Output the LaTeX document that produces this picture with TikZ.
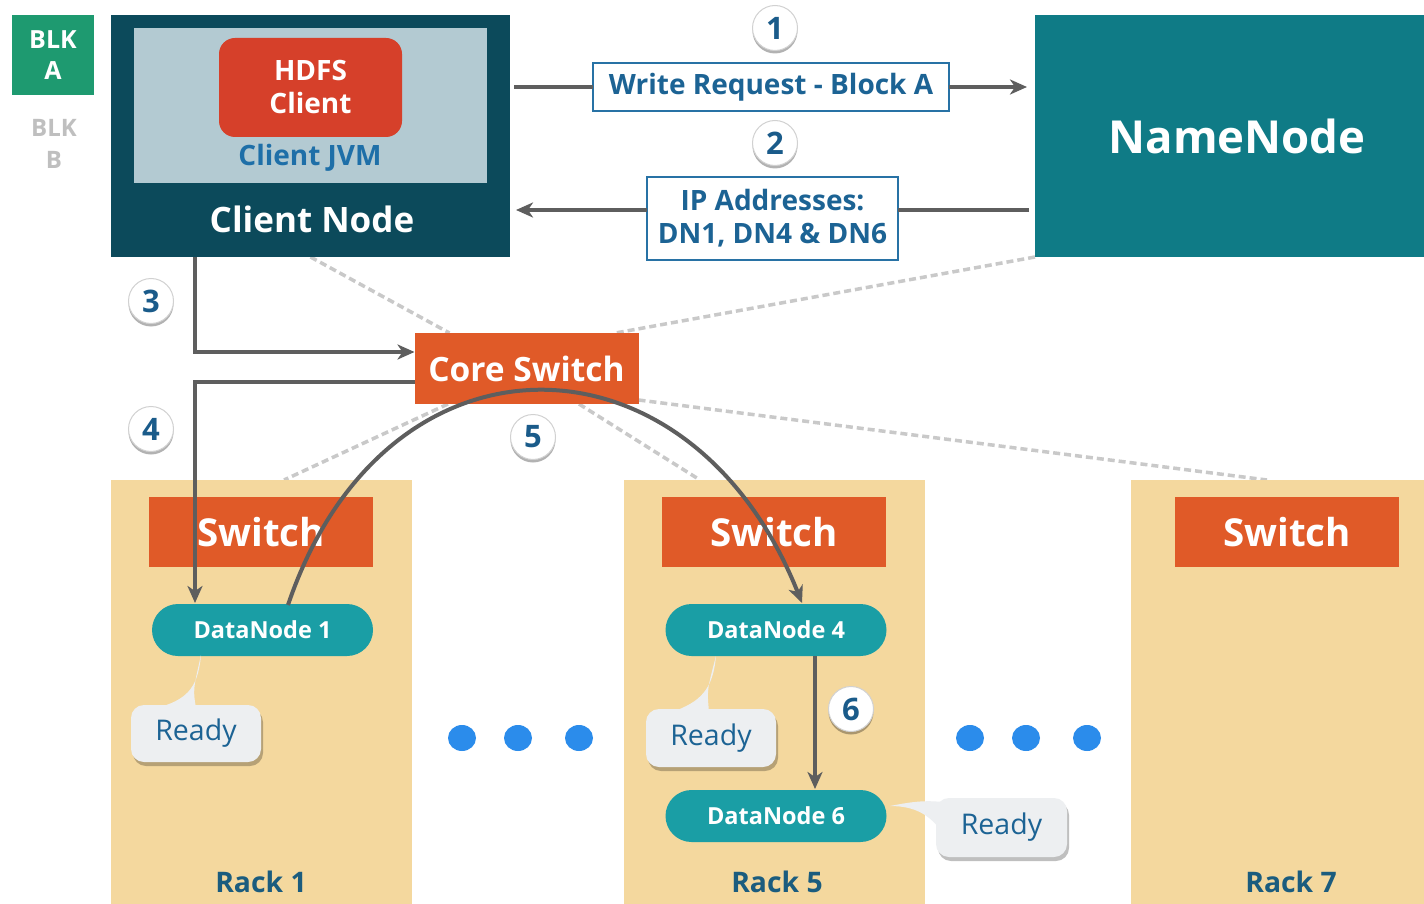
\documentclass[tikz,border=0pt]{standalone}
\usepackage{fontspec}
\setmainfont{Open Sans}
\usetikzlibrary{arrows.meta,shadows,calc,shapes.geometric}
\definecolor{blkgreen}{HTML}{1E9A70}
\definecolor{darkteal}{HTML}{0C4A5B}
\definecolor{jvmbg}{HTML}{B3CAD2}
\definecolor{hdfsred}{HTML}{D6402A}
\definecolor{jvmblue}{HTML}{1E6FA8}
\definecolor{nnteal}{HTML}{0F7B86}
\definecolor{swor}{HTML}{E05A28}
\definecolor{racktan}{HTML}{F4D89E}
\definecolor{dnteal}{HTML}{1A9EA5}
\definecolor{bubble}{HTML}{EDEFF1}
\definecolor{racktxt}{HTML}{1B5C7E}
\definecolor{lblblue}{HTML}{1C6394}
\definecolor{lblborder}{HTML}{2872A5}
\definecolor{numtxt}{HTML}{1A5B8A}
\definecolor{dotblue}{HTML}{2B8CEB}
\definecolor{arrgray}{HTML}{5E5E5E}
\definecolor{dashgray}{HTML}{C9C9C9}
\newcommand{\fs}[2]{\fontsize{#1}{#2}\selectfont}
\pgfdeclarelayer{bg}
\pgfsetlayers{bg,main}
\begin{document}
\begin{tikzpicture}[x=1pt,y=-1pt,
  box/.style={rectangle,inner sep=0pt,outer sep=0pt},
  conn/.style={draw=arrgray,line width=4pt},
  tip/.style={-{Stealth[length=17pt,width=15pt,inset=5pt]}},
  dsh/.style={draw=dashgray,line width=3.5pt,dash pattern=on 7pt off 4pt},
  num/.style={circle,fill=white,draw=black!18,line width=1pt,minimum size=45pt,inner sep=0pt,
     text=numtxt,font=\fs{31}{36}\bfseries,
     drop shadow={shadow xshift=0pt,shadow yshift=-3pt,fill=black,opacity=.3}},
  lbl/.style={box,fill=white,draw=lblborder,line width=2.5pt,text=lblblue,font=\fs{28}{33}\bfseries,align=center},
  rack/.style={box,fill=racktan,minimum width=301pt,minimum height=440pt},
  switchbox/.style={box,fill=swor,minimum width=224pt,minimum height=70pt,text=white,font=\fs{38.5}{44}\bfseries},
  dnode/.style={box,fill=dnteal,rounded corners=26pt,minimum width=221pt,minimum height=52pt,text=white,font=\fs{23.5}{28}\bfseries},
  ready/.style={box,fill=bubble,rounded corners=13pt,minimum width=130pt,minimum height=57pt,text=lblblue,font=\fs{28.5}{33},
     drop shadow={shadow xshift=2pt,shadow yshift=-4pt,fill=black,opacity=.25}},
  racklbl/.style={text=racktxt,font=\fs{28.3}{33}\bfseries,inner sep=0pt},
  dotn/.style={ellipse,fill=dotblue,minimum width=28pt,minimum height=26pt,inner sep=0pt},
]
\useasboundingbox (0,0) rectangle (1424,904);
\begin{pgfonlayer}{bg}
\fill[white] (0,0) rectangle (1424,904);
\end{pgfonlayer}

% BLK labels
\node[box,fill=blkgreen,minimum width=82pt,minimum height=80pt,text=white,font=\fs{25}{31}\bfseries,align=center] (blka) at (53,55) {BLK\\A};
\node[text=black!25,font=\fs{24}{32}\bfseries,align=center,inner sep=0pt] (blkb) at (54,144) {BLK\\B};

% racks and switches
\node[rack] (rack1) at (261.5,700) {};
\node[rack] (rack5) at (774.5,700) {};
\node[rack] (rack7) at (1281.5,700) {};
\node[switchbox] (sw1) at (261,532) {Switch};
\node[switchbox] (sw5) at (774,532) {Switch};
\node[switchbox] (sw7) at (1287,532) {Switch};
\node[racklbl] (rl1) at (261,882) {Rack 1};
\node[racklbl] (rl5) at (777,882) {Rack 5};
\node[racklbl] (rl7) at (1291,882) {Rack 7};

% client node
\node[box,fill=darkteal,minimum width=399pt,minimum height=242pt] (client) at (310.5,136) {};
\node[box,fill=jvmbg,minimum width=353pt,minimum height=155pt] (jvm) at (310.5,105.5) {};
\node[box,fill=hdfsred,rounded corners=16pt,minimum width=183pt,minimum height=99pt,text=white,font=\fs{28}{33}\bfseries,align=center] (hdfs) at (310.5,87.5) {HDFS\\Client};
\node[text=jvmblue,font=\fs{28}{33}\bfseries,inner sep=0pt] (jvmtxt) at (310,158) {Client JVM};
\node[text=white,font=\fs{35}{40}\bfseries,inner sep=0pt] (cntxt) at (312,219) {Client Node};

% name node
\node[box,fill=nnteal,minimum width=404pt,minimum height=242pt,text=white,font=\fs{45.5}{52}\bfseries] (nn) at (1237,136) {NameNode};

% core switch
\node[box,fill=swor,minimum width=224pt,minimum height=71pt,text=white,font=\fs{33.5}{38}\bfseries] (core) at (526.5,368.5) {Core Switch};

% dashed links
\begin{pgfonlayer}{bg}
\draw[dsh] (client.south) -- ([xshift=35pt]core.north west);
\draw[dsh] (nn.south west) -- ([xshift=-23pt]core.north east);
\draw[dsh] ([xshift=-78.5pt]core.south) -- ([xshift=22.5pt]rack1.north);
\draw[dsh] ([xshift=52.5pt]core.south) -- ([xshift=-74.5pt]rack5.north);
\draw[dsh] ([yshift=4pt]core.south east) -- ([xshift=-14.5pt]rack7.north);
\end{pgfonlayer}

% labels between client and namenode
\node[lbl,minimum width=356pt,minimum height=48pt] (wr) at (771,87) {Write Request - Block A};
\node[lbl,minimum width=251pt,minimum height=83pt] (ip) at (772.5,218.5) {IP Addresses:\\DN1, DN4 \& DN6};
\coordinate (ipe) at ([yshift=8.5pt]ip.east);
\coordinate (ipw) at ([yshift=8.5pt]ip.west);

\draw[conn] ([xshift=4pt]client.east |- wr.west) -- (wr.west);
\draw[conn,tip] (wr.east) -- ([xshift=-8pt]nn.west |- wr.east);
\draw[conn] ([xshift=-6pt]nn.west |- ipe) -- (ipe);
\draw[conn,tip] (ipw) -- ([xshift=6pt]client.east |- ipw);

% data nodes
\node[dnode] (dn1) at (262.5,630) {DataNode 1};
\node[dnode] (dn4) at (776,630) {DataNode 4};
\node[dnode] (dn6) at (776,816) {DataNode 6};

% arrows 3,4,5,6
\draw[conn,tip] ([xshift=-115.5pt]client.south) |- ([yshift=16.5pt]core.west);
\draw[conn,tip] ([yshift=-13.5pt]core.west) -| ([xshift=-67.5pt,yshift=1pt]dn1.north);
\draw[conn,tip] ([xshift=25.5pt,yshift=-1pt]dn1.north) .. controls (385,318) and (690,322) .. ([xshift=26pt,yshift=1pt]dn4.north);
\draw[conn,tip] ([xshift=39pt]dn4.south) -- ([xshift=39pt,yshift=1pt]dn6.north);

% ready bubbles
\fill[bubble] (201,655) .. controls (198,690) and (185,700) .. (157,708) -- (196,708) .. controls (193,690) .. (201,655) -- cycle;
\fill[bubble] (716,656) .. controls (713,690) and (700,702) .. (672,712) -- (709,712) .. controls (707,690) .. (716,656) -- cycle;
\fill[bubble] (890,806) .. controls (915,806) and (930,815) .. (942,832) -- (942,802) .. controls (925,800) and (910,802) .. (890,806) -- cycle;
\node[ready] (r1) at (196,733.5) {Ready};
\node[ready,minimum height=58pt] (r5) at (711,738) {Ready};
\node[ready,minimum width=131pt,minimum height=59pt] (r6) at (1001.5,827.5) {Ready};

% dots
\node[dotn] (d1) at (462,738) {};
\node[dotn] (d2) at (518,738) {};
\node[dotn] (d3) at (579,738) {};
\node[dotn] (d4) at (970,738) {};
\node[dotn] (d5) at (1026,738) {};
\node[dotn] (d6) at (1087,738) {};

% step numbers
\node[num] (n1) at (775,28) {1};
\node[num] (n2) at (775,143) {2};
\node[num] (n3) at (151,301) {3};
\node[num] (n4) at (151,429) {4};
\node[num] (n5) at (533,437) {5};
\node[num] (n6) at (851,709) {6};
\end{tikzpicture}
\end{document}
